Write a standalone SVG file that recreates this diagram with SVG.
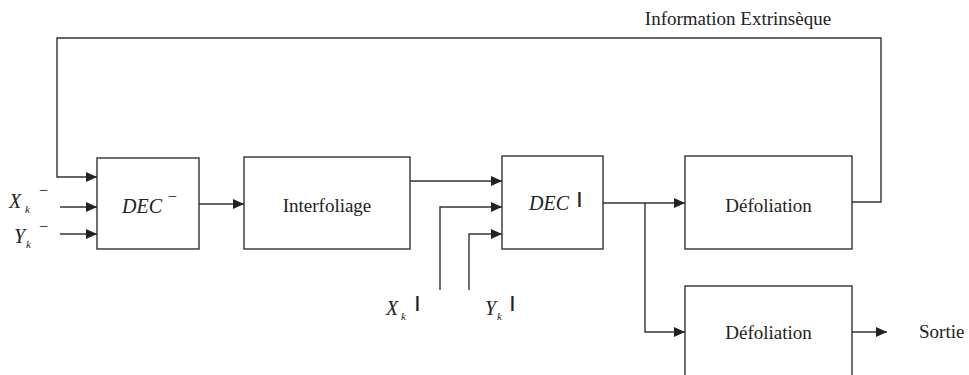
<svg xmlns="http://www.w3.org/2000/svg" width="969" height="375" viewBox="0 0 969 375">
<style>
.box{fill:#fff;stroke:#333;stroke-width:1.4}
.ln{fill:none;stroke:#333;stroke-width:1.4}
.arr{marker-end:url(#ah)}
.t{font-family:"Liberation Serif","Times New Roman",serif;font-size:19px;fill:#222}
.i{font-family:"Liberation Serif","Times New Roman",serif;font-style:italic;font-size:20px;fill:#222}
.sub{font-family:"Liberation Serif","Times New Roman",serif;font-style:italic;font-size:11px;fill:#222}
.sup{font-family:"Liberation Serif","Times New Roman",serif;font-size:16px;fill:#222}
.bar{font-family:"Liberation Sans",Arial,sans-serif;font-size:17px;font-weight:bold;fill:#222}
</style>
<defs>
<marker id="ah" markerUnits="userSpaceOnUse" markerWidth="12" markerHeight="10" refX="11" refY="5" orient="auto">
<path d="M0,0 L11,5 L0,10 z" fill="#222"/>
</marker>
</defs>
<rect width="969" height="375" fill="#fff"/>
<g id="connectors">
<path class="ln arr" d="M852 202 H881 V38 H57 V177 H97"/>
<path class="ln arr" d="M60 207 H97"/>
<path class="ln arr" d="M60 234 H97"/>
<path class="ln arr" d="M199 204 H244"/>
<path class="ln arr" d="M410 181 H502"/>
<path class="ln arr" d="M440 290 V207 H502"/>
<path class="ln arr" d="M469 290 V234 H502"/>
<path class="ln arr" d="M603 203 H685"/>
<path class="ln arr" d="M645 203 V332 H685"/>
<path class="ln arr" d="M852 332 H887"/>
</g>
<g id="dec1">
<rect class="box" x="97" y="158" width="102" height="91"/>
<text class="i" x="122" y="213">DEC</text>
<text class="sup" x="168" y="202">−</text>
</g>
<g id="interfoliage">
<rect class="box" x="244" y="157" width="166" height="92"/>
<text class="t" x="327" y="212" text-anchor="middle">Interfoliage</text>
</g>
<g id="dec2">
<rect class="box" x="502" y="156" width="101" height="93"/>
<text class="i" x="529" y="210">DEC</text>
<text class="bar" x="577" y="204">|</text>
</g>
<g id="defoliation1">
<rect class="box" x="685" y="156" width="167" height="93"/>
<text class="t" x="768.5" y="212" text-anchor="middle">Défoliation</text>
</g>
<g id="defoliation2">
<rect class="box" x="685" y="286" width="167" height="100"/>
<text class="t" x="768.5" y="339" text-anchor="middle">Défoliation</text>
</g>
<g id="labels">
<text class="t" x="738" y="25" text-anchor="middle">Information Extrinsèque</text>
<text class="t" x="919" y="338">Sortie</text>
<text class="i" x="9" y="208">X</text><text class="sub" x="25" y="213">k</text><text class="sup" x="39" y="196">−</text>
<text class="i" x="14" y="243">Y</text><text class="sub" x="26" y="248">k</text><text class="sup" x="39" y="232">−</text>
<text class="i" x="386" y="315">X</text><text class="sub" x="401" y="320">k</text><text class="bar" x="415" y="308">|</text>
<text class="i" x="485" y="315">Y</text><text class="sub" x="497" y="320">k</text><text class="bar" x="510" y="308">|</text>
</g>
</svg>
